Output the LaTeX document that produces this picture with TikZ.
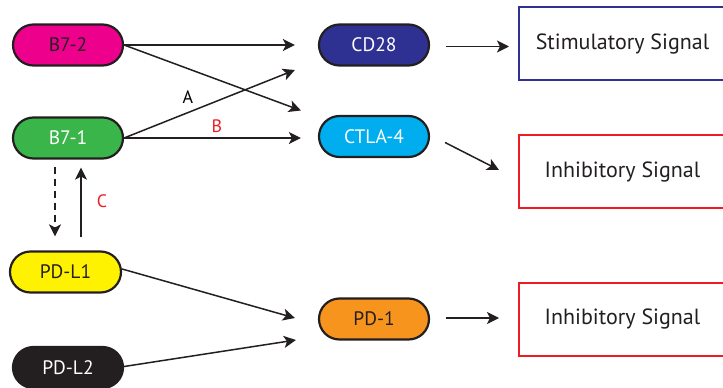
\documentclass[tikz,border=0pt]{standalone}
\usepackage{fontspec}
\setmainfont{PT Sans}
\usepackage{tikz}
\usetikzlibrary{arrows.meta,positioning,shapes.misc,calc}
\definecolor{B72pink}{HTML}{EC008C}
\definecolor{B71green}{HTML}{39B54A}
\definecolor{PDLyellow}{HTML}{FFF200}
\definecolor{PDLblack}{HTML}{231F20}
\definecolor{CDnavy}{HTML}{2E3192}
\definecolor{CTLAcyan}{HTML}{00AEEF}
\definecolor{PDorange}{HTML}{F7941D}
\definecolor{SIGblue}{HTML}{2E3192}
\definecolor{SIGred}{HTML}{ED1C24}
\tikzset{
  sig/receptor/.style={draw=PDLblack, rounded rectangle, line width=2.2pt, minimum width=110pt, minimum height=41pt, inner sep=0pt, font=\fontsize{19.5}{21}\selectfont},
  sig/outbox/.style={draw, line width=2pt, fill=white, minimum width=207pt, minimum height=73pt, inner sep=0pt, font=\fontsize{22}{24}\selectfont, text=PDLblack},
  sig/arrow/.style={line width=1.5pt, draw=PDLblack, -{Stealth[length=12pt,width=12pt,inset=3pt]}},
  sig/dash/.style={sig/arrow, dash pattern=on 7pt off 5pt},
  sig/label/.style={font=\fontsize{18}{20}\selectfont, inner sep=1pt}
}

\begin{document}
\begin{tikzpicture}[x=1pt,y=-1pt]
  \useasboundingbox (0,0) rectangle (723,388);

  % ligands
  \node[sig/receptor, fill=B72pink, text=PDLblack] (b72) at (68,45) {B7-2};
  \node[sig/receptor, fill=B71green, text=white] (b71) at (68,138) {B7-1};
  \node[sig/receptor, fill=PDLyellow, text=PDLblack, minimum width=111pt] (pdl1) at (65.5,272) {PD-L1};
  \node[sig/receptor, fill=PDLblack, text=white] (pdl2) at (68,367.5) {PD-L2};

  % receptors
  \node[sig/receptor, fill=CDnavy, text=white] (cd28) at (374,45) {CD28};
  \node[sig/receptor, fill=CTLAcyan, text=white] (ctla4) at (374,136.5) {CTLA-4};
  \node[sig/receptor, fill=PDorange, text=PDLblack] (pd1) at (374,319) {PD-1};

  % outcomes
  \node[sig/outbox, draw=SIGblue] (stim) at (622.5,43.5) {Stimulatory Signal};
  \node[sig/outbox, draw=SIGred] (inh1) at (622.5,171.5) {Inhibitory Signal};
  \node[sig/outbox, draw=SIGred] (inh2) at (622.5,319) {Inhibitory Signal};

  \draw[sig/arrow, shorten >=23pt] (b72.east) -- (b72.east -| cd28.west);
  \draw[sig/arrow] (b72.east) -- ([shift={(-17,-26)}]ctla4.west);
  \draw[sig/arrow] (b71.east) -- ([shift={(-23,25)}]cd28.west);
  \draw[sig/arrow, shorten >=17pt] (b71.east) -- (b71.east -| ctla4.west);
  \node[sig/label] (labA) at (188,97) {A};
  \node[sig/label, text=SIGred] (labB) at (217,126) {B};

  \draw[sig/dash, shorten <=7pt, shorten >=14pt] ([xshift=-13pt]b71.south) -- ([xshift=-10.5pt]pdl1.north);
  \draw[sig/arrow, shorten <=13pt, shorten >=8pt] ([xshift=15.5pt]pdl1.north) -- ([xshift=13pt]b71.south);
  \node[sig/label, text=SIGred] (labC) at (102,201) {C};

  \draw[sig/arrow] ([yshift=3pt]pdl1.east) -- ([shift={(-23,-1)}]pd1.west);
  \draw[sig/arrow] ([yshift=1pt]pdl2.east) -- ([shift={(-22,21)}]pd1.west);

  \draw[sig/arrow, shorten <=16pt, shorten >=9pt] ([yshift=-1.5pt]cd28.east) -- ([yshift=-1.5pt]cd28.east -| stim.west);
  \draw[sig/arrow] ([shift={(15,6)}]ctla4.east) -- ([shift={(-19,-1.5)}]inh1.west);
  \draw[sig/arrow, shorten <=16pt, shorten >=19pt] ([yshift=1pt]pd1.east) -- ([yshift=1pt]pd1.east -| inh2.west);
\end{tikzpicture}
\end{document}
